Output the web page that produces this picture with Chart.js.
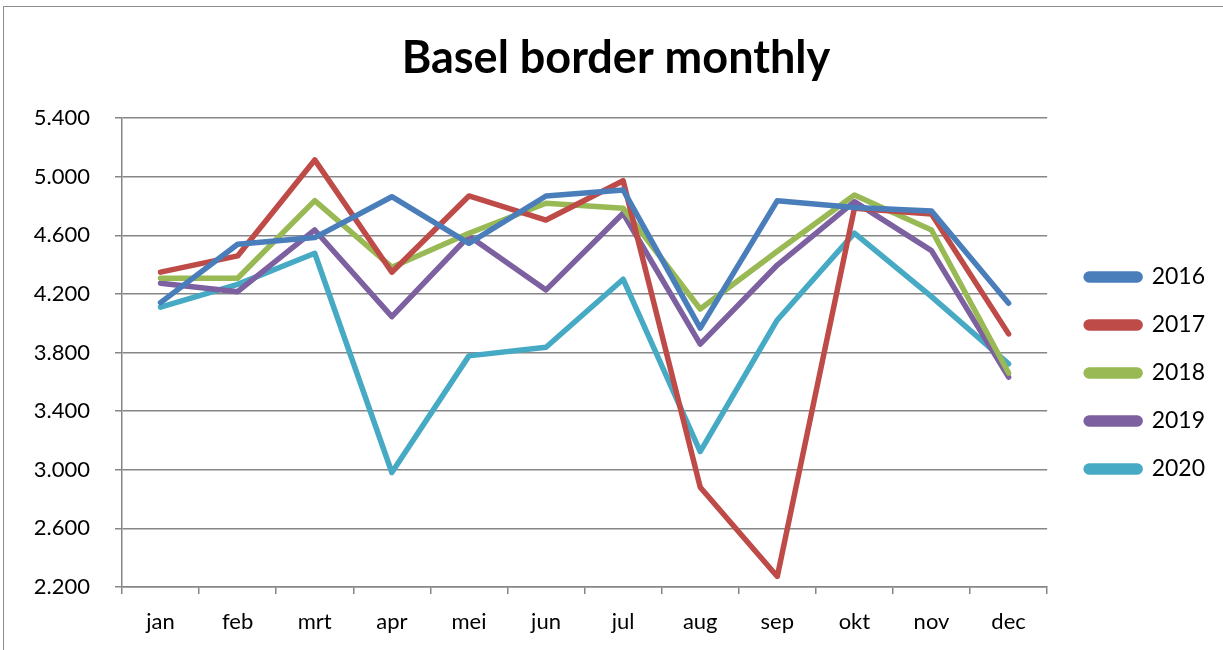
<!DOCTYPE html>
<html>
<head>
<meta charset="utf-8">
<script src="https://cdn.jsdelivr.net/npm/chart.js@4.4.0/dist/chart.umd.min.js"></script>
<style>
  html, body { margin: 0; padding: 0; background: #fff; overflow: hidden; }
  #frame { position: absolute; left: 3px; top: 6px; width: 1300px; height: 700px; border: 1px solid #8c8c8c; box-sizing: border-box; }
  #wrap { position: absolute; left: 0; top: 0; width: 1223px; height: 650px; }
</style>
</head>
<body>
<div id="frame"></div>
<div id="wrap"><canvas id="chart" width="1223" height="650"></canvas></div>
<script>
const months = ['jan', 'feb', 'mrt', 'apr', 'mei', 'jun', 'jul', 'aug', 'sep', 'okt', 'nov', 'dec'];
const years = ['2016', '2017', '2018', '2019', '2020'];

const y2016 = [4140, 4539, 4584, 4863, 4545, 4868, 4909, 3966, 4836, 4790, 4766, 4136];
const y2017 = [4348, 4459, 5114, 4348, 4868, 4704, 4972, 2881, 2272, 4784, 4745, 3927];
const y2018 = [4307, 4307, 4836, 4382, 4614, 4818, 4784, 4097, 4491, 4875, 4636, 3660];
const y2019 = [4273, 4215, 4636, 4045, 4595, 4227, 4750, 3857, 4397, 4829, 4495, 3632];
const y2020 = [4109, 4265, 4477, 2981, 3777, 3836, 4300, 3124, 4022, 4614, 4181, 3722];

const yMin = 2200;
const yMax = 5400;
const yStep = 400;

const colors = ['#4a7ebb', '#be4b48', '#98b954', '#7d60a0', '#46aac5'];
const series = [y2016, y2017, y2018, y2019, y2020];

// thousands with a dot, like the Dutch Excel original
const fmt = (v) => {
  let s = String(Math.round(v));
  return s.length > 3 ? s.slice(0, s.length - 3) + '.' + s.slice(-3) : s;
};

const datasets = series.map((d, i) => ({
  label: years[i],
  data: d,
  borderColor: colors[i],
  backgroundColor: colors[i],
  borderWidth: 5.5,
  pointRadius: 0,
  pointHoverRadius: 0,
  tension: 0,
  borderCapStyle: 'round',
  borderJoinStyle: 'round',
  fill: false
}));

const font = "Lato, 'Open Sans', sans-serif";
const gridColor = '#868686';

// move the legend a bit to the right of the plot, as in the original
const legendNudge = {
  id: 'legendNudge',
  afterLayout(chart) {
    chart.legend.left += 14;
    chart.legend.right += 14;
  }
};

new Chart(document.getElementById('chart').getContext('2d'), {
  type: 'line',
  data: { labels: months, datasets: datasets },
  plugins: [legendNudge],
  options: {
    responsive: false,
    animation: false,
    devicePixelRatio: 1,
    layout: { padding: { left: 31, right: 22, top: 6, bottom: 0 } },
    plugins: {
      title: {
        display: true,
        text: 'Basel border monthly',
        color: '#000',
        font: { family: font, size: 45, weight: 'bold' },
        padding: { top: 25, bottom: 33 }
      },
      legend: {
        position: 'right',
        align: 'center',
        fullSize: false,
        title: { display: true, text: ' ', font: { size: 20 }, padding: { top: 8.5, bottom: 8.5 } },
        labels: {
          color: '#000',
          font: { family: font, size: 23 },
          boxWidth: 54,
          boxHeight: 6,
          useBorderRadius: true,
          borderRadius: 3,
          padding: 25
        }
      },
      tooltip: { enabled: false }
    },
    scales: {
      x: {
        offset: true,
        afterFit: (scale) => { scale.height = 63; },
        grid: {
          offset: true,
          drawOnChartArea: false,
          drawTicks: true,
          tickLength: 7,
          color: gridColor,
          lineWidth: 1.5
        },
        border: { color: gridColor, width: 1.5 },
        ticks: { color: '#000', font: { family: font, size: 22 }, padding: 15 }
      },
      y: {
        min: yMin,
        max: yMax,
        afterFit: (scale) => { scale.width = 91; },
        grid: { color: gridColor, lineWidth: 1.5, tickLength: 7 },
        border: { color: gridColor, width: 1.5 },
        ticks: {
          stepSize: yStep,
          color: '#000',
          font: { family: font, size: 22 },
          padding: 25,
          callback: (v) => fmt(v)
        }
      }
    }
  }
});
</script>
</body>
</html>
